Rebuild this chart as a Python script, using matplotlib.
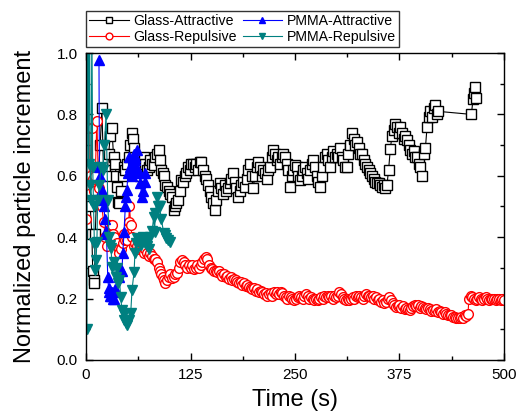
import matplotlib
matplotlib.use("Agg")
import matplotlib.pyplot as plt
from matplotlib.ticker import MultipleLocator

plt.rcParams['font.family'] = ['Liberation Sans', 'DejaVu Sans']

# Glass-Attractive
ga_t = [3, 5, 7, 8, 9, 10, 11, 13, 15, 17, 19, 21, 23, 25, 27, 29, 31, 33, 35, 36,
        37, 38, 40, 42, 44, 45, 47, 49, 51, 53, 55, 56, 57, 59, 61, 63, 65, 67, 69, 71,
        73, 75, 77, 79, 81, 83, 85, 87, 88, 90, 92, 93, 95, 97, 99, 101, 103, 105, 107, 108,
        110, 112, 114, 116, 118, 120, 122, 124, 126, 128, 130, 132, 134, 136, 138, 140, 142, 144, 146, 148,
        150, 152, 154, 156, 158, 160, 162, 164, 166, 168, 170, 172, 174, 176, 178, 180, 182, 184, 186, 188,
        190, 192, 194, 196, 198, 200, 202, 204, 206, 208, 210, 212, 214, 216, 218, 220, 222, 224, 226, 228,
        230, 232, 234, 236, 238, 240, 242, 244, 246, 248, 250, 252, 254, 256, 258, 260, 262, 264, 266, 268,
        270, 272, 274, 276, 278, 280, 282, 284, 286, 288, 290, 292, 294, 296, 298, 300, 302, 304, 306, 308,
        310, 312, 314, 316, 318, 320, 322, 324, 326, 328, 330, 332, 334, 336, 338, 340, 342, 344, 346, 348,
        350, 352, 354, 356, 358, 360, 362, 364, 366, 368, 370, 372, 374, 376, 378, 380, 382, 384, 386, 388,
        390, 392, 394, 396, 398, 400, 402, 404, 406, 408, 410, 412, 414, 416, 418, 420, 421, 461, 463, 464,
        465, 466]
ga_y = [0.63, 0.50, 0.41, 0.29, 0.26, 0.25, 0.41, 0.56, 0.62, 0.70, 0.82, 0.61, 0.62, 0.60, 0.67, 0.73, 0.755, 0.66, 0.64, 0.60,
        0.565, 0.515, 0.51, 0.55, 0.60, 0.63, 0.62, 0.64, 0.66, 0.70, 0.74, 0.72, 0.69, 0.66, 0.64, 0.62, 0.60, 0.63, 0.66, 0.64,
        0.62, 0.63, 0.65, 0.64, 0.635, 0.66, 0.67, 0.684, 0.65, 0.62, 0.61, 0.60, 0.57, 0.565, 0.55, 0.54, 0.53, 0.49, 0.50, 0.51,
        0.52, 0.55, 0.585, 0.58, 0.60, 0.61, 0.63, 0.62, 0.64, 0.64, 0.63, 0.64, 0.62, 0.645, 0.646, 0.62, 0.60, 0.59, 0.57, 0.55,
        0.53, 0.51, 0.49, 0.52, 0.55, 0.575, 0.56, 0.54, 0.57, 0.55, 0.56, 0.575, 0.59, 0.61, 0.58, 0.56, 0.53, 0.55, 0.57, 0.58,
        0.565, 0.59, 0.62, 0.64, 0.60, 0.56, 0.60, 0.63, 0.645, 0.63, 0.60, 0.62, 0.61, 0.59, 0.62, 0.63, 0.66, 0.684, 0.67, 0.65,
        0.66, 0.64, 0.66, 0.67, 0.66, 0.64, 0.62, 0.565, 0.60, 0.62, 0.635, 0.63, 0.60, 0.585, 0.60, 0.62, 0.63, 0.61, 0.59, 0.62,
        0.64, 0.65, 0.63, 0.60, 0.58, 0.565, 0.60, 0.63, 0.66, 0.67, 0.65, 0.63, 0.66, 0.68, 0.66, 0.67, 0.66, 0.69, 0.66, 0.65,
        0.63, 0.63, 0.67, 0.70, 0.74, 0.72, 0.70, 0.71, 0.69, 0.67, 0.67, 0.65, 0.64, 0.63, 0.62, 0.61, 0.60, 0.59, 0.58, 0.575,
        0.575, 0.57, 0.565, 0.57, 0.56, 0.57, 0.62, 0.687, 0.73, 0.75, 0.77, 0.76, 0.74, 0.76, 0.74, 0.72, 0.73, 0.716, 0.70, 0.684,
        0.67, 0.68, 0.66, 0.66, 0.64, 0.63, 0.60, 0.67, 0.69, 0.76, 0.79, 0.81, 0.79, 0.82, 0.83, 0.80, 0.81, 0.80, 0.85, 0.87,
        0.89, 0.855]

# Glass-Repulsive
gr_t = [0, 1, 2, 3, 4, 5, 6, 7, 8, 10, 11, 13, 15, 17, 19, 21, 23, 25, 27, 29,
        31, 32, 34, 37, 39, 40, 42, 44, 45.5, 47, 49, 51, 52, 53.5, 55, 57, 59, 61, 63, 65,
        67, 69, 71, 73, 75, 77, 79, 81, 83, 85, 87, 88, 90, 92, 93, 95, 97, 99, 101, 103,
        105, 107, 109, 111, 113, 115, 117, 119, 121, 123, 125, 127, 129, 131, 133, 135, 137, 139, 141, 143,
        145, 147, 149, 151, 153, 155, 157, 159, 161, 163, 165, 167, 169, 171, 173, 175, 177, 179, 181, 183,
        185, 187, 189, 191, 193, 195, 197, 199, 201, 203, 205, 207, 209, 211, 213, 215, 217, 219, 221, 223,
        225, 227, 229, 231, 233, 235, 237, 239, 241, 243, 245, 247, 249, 251, 253, 255, 257, 259, 261, 263,
        265, 267, 269, 271, 273, 275, 277, 279, 281, 283, 285, 287, 289, 291, 293, 295, 297, 299, 301, 303,
        305, 307, 309, 311, 313, 315, 317, 319, 321, 323, 325, 327, 329, 331, 333, 335, 337, 339, 341, 343,
        345, 347, 349, 351, 353, 355, 357, 359, 361, 363, 365, 367, 369, 371, 373, 375, 377, 379, 381, 383,
        385, 387, 389, 391, 393, 395, 397, 399, 401, 403, 405, 407, 409, 411, 413, 415, 417, 419, 421, 423,
        425, 427, 429, 431, 433, 435, 437, 439, 441, 443, 445, 447, 449, 451, 453, 455, 457, 458, 460, 462,
        464, 466, 468, 470, 472, 474, 476, 478, 480, 482, 484, 486, 488, 490, 492, 494, 496, 498, 500]
gr_y = [0.46, 1.3, 0.755, 1.2, 0.54, 0.60, 0.58, 0.755, 0.59, 0.55, 0.60, 0.78, 0.56, 0.505, 0.50, 0.45, 0.40, 0.37, 0.42, 0.44,
        0.44, 0.41, 0.40, 0.38, 0.36, 0.35, 0.36, 0.38, 0.41, 0.39, 0.39, 0.45, 0.50, 0.44, 0.40, 0.37, 0.38, 0.37, 0.36, 0.37,
        0.36, 0.35, 0.36, 0.35, 0.34, 0.348, 0.34, 0.33, 0.33, 0.32, 0.30, 0.29, 0.28, 0.27, 0.26, 0.25, 0.26, 0.27, 0.28, 0.267,
        0.27, 0.28, 0.283, 0.30, 0.32, 0.325, 0.32, 0.31, 0.30, 0.31, 0.30, 0.31, 0.295, 0.30, 0.31, 0.30, 0.31, 0.32, 0.33, 0.335,
        0.33, 0.31, 0.30, 0.295, 0.29, 0.29, 0.285, 0.29, 0.28, 0.275, 0.28, 0.27, 0.275, 0.265, 0.27, 0.26, 0.265, 0.26, 0.255, 0.25,
        0.255, 0.245, 0.25, 0.24, 0.245, 0.238, 0.235, 0.23, 0.235, 0.225, 0.23, 0.22, 0.225, 0.22, 0.215, 0.218, 0.21, 0.215, 0.218, 0.21,
        0.22, 0.215, 0.22, 0.215, 0.22, 0.218, 0.21, 0.205, 0.20, 0.21, 0.205, 0.20, 0.195, 0.20, 0.205, 0.21, 0.205, 0.20, 0.21, 0.215,
        0.21, 0.20, 0.205, 0.20, 0.195, 0.20, 0.195, 0.20, 0.205, 0.20, 0.21, 0.205, 0.21, 0.205, 0.21, 0.20, 0.21, 0.205, 0.21, 0.222,
        0.215, 0.205, 0.20, 0.195, 0.20, 0.195, 0.20, 0.205, 0.20, 0.21, 0.205, 0.21, 0.205, 0.20, 0.21, 0.215, 0.21, 0.21, 0.205, 0.21,
        0.20, 0.205, 0.195, 0.20, 0.19, 0.195, 0.185, 0.19, 0.20, 0.206, 0.195, 0.185, 0.18, 0.173, 0.175, 0.18, 0.17, 0.175, 0.165, 0.17,
        0.165, 0.163, 0.17, 0.175, 0.18, 0.175, 0.18, 0.17, 0.175, 0.173, 0.17, 0.165, 0.17, 0.165, 0.16, 0.163, 0.16, 0.165, 0.155, 0.16,
        0.155, 0.15, 0.155, 0.15, 0.148, 0.147, 0.145, 0.14, 0.14, 0.136, 0.138, 0.136, 0.14, 0.138, 0.145, 0.143, 0.15, 0.20, 0.21, 0.205,
        0.20, 0.195, 0.20, 0.205, 0.20, 0.195, 0.20, 0.205, 0.20, 0.195, 0.20, 0.198, 0.20, 0.195, 0.198, 0.20, 0.195, 0.198, 0.195]

# PMMA-Attractive
pa_t = [15.5, 16, 17, 18, 19, 20, 21.5, 22.5, 23.5, 24.5, 26, 27, 28, 29, 30, 31, 32, 33.5, 35, 37,
        39, 41, 43, 44, 45.5, 47, 48, 49, 50, 51.5, 52.5, 53.5, 55, 56, 57, 58, 59, 61, 62, 63.5,
        65, 67, 68, 70, 71]
pa_y = [0.977, 0.63, 0.60, 0.55, 0.553, 0.52, 0.50, 0.46, 0.42, 0.41, 0.27, 0.234, 0.22, 0.21, 0.21, 0.22, 0.20, 0.20, 0.23, 0.22,
        0.27, 0.30, 0.29, 0.35, 0.418, 0.50, 0.53, 0.553, 0.61, 0.66, 0.63, 0.63, 0.60, 0.64, 0.67, 0.65, 0.66, 0.684, 0.62, 0.61,
        0.575, 0.53, 0.55, 0.58, 0.61]

# PMMA-Repulsive
pr_t = [1, 2, 3, 4, 5, 6, 7, 8, 9, 10, 11, 12, 13, 14, 16, 18, 20, 22, 24, 26,
        27.5, 28.7, 30, 31, 33, 35.5, 37, 38, 40, 41.5, 43, 45, 46, 47.5, 49, 51, 53.5, 55, 57.5, 58.5,
        60, 61, 63, 64, 66, 67, 68, 70, 71, 73, 75, 77, 79, 81, 82, 83, 85, 86, 87, 88,
        90, 93, 94, 96, 98, 101]
pr_y = [0.10, 1.5, 0.64, 1.3, 0.57, 0.52, 1.1, 0.63, 0.50, 0.38, 0.293, 0.325, 0.385, 0.52, 0.57, 0.63, 0.62, 0.70, 0.80, 0.52,
        0.40, 0.375, 0.365, 0.303, 0.32, 0.27, 0.30, 0.25, 0.26, 0.205, 0.163, 0.15, 0.13, 0.12, 0.115, 0.13, 0.153, 0.228, 0.287, 0.348,
        0.38, 0.397, 0.385, 0.39, 0.375, 0.385, 0.40, 0.39, 0.38, 0.37, 0.36, 0.40, 0.42, 0.466, 0.418, 0.478, 0.53, 0.50, 0.50, 0.50,
        0.46, 0.413, 0.407, 0.397, 0.39, 0.385]

fig = plt.figure(figsize=(5.16, 4.18), dpi=100)
ax = fig.add_axes([0.1667, 0.1388, 0.81, 0.7344])

ax.plot(ga_t, ga_y, '-s', color='black', lw=0.8, ms=6.5, mfc='white', mec='black', mew=1.0,
        label='Glass-Attractive')
ax.plot(gr_t, gr_y, '-o', color='red', lw=0.8, ms=7, mfc='white', mec='red', mew=1.0,
        label='Glass-Repulsive')
ax.plot(pa_t, pa_y, '-^', color='blue', lw=0.8, ms=7, mfc='blue', mec='blue', mew=1.0,
        label='PMMA-Attractive')
ax.plot(pr_t, pr_y, '-v', color='#008080', lw=0.8, ms=7, mfc='#008080', mec='#008080', mew=1.0,
        label='PMMA-Repulsive')

ax.set_xlim(0, 500)
ax.set_ylim(0, 1.0)
ax.xaxis.set_major_locator(MultipleLocator(125))
ax.xaxis.set_minor_locator(MultipleLocator(62.5))
ax.yaxis.set_major_locator(MultipleLocator(0.2))
ax.yaxis.set_minor_locator(MultipleLocator(0.1))
ax.tick_params(which='both', direction='in', top=True, right=True, labelsize=11, pad=6, width=1)
ax.tick_params(which='major', length=5)
ax.tick_params(which='minor', length=3)
for s in ax.spines.values():
    s.set_linewidth(1.0)

ax.set_xlabel('Time (s)', fontsize=17, va='center')
ax.xaxis.set_label_coords(0.5, -0.13)
ax.set_ylabel('Normalized particle increment', fontsize=17, va='center')
ax.yaxis.set_label_coords(-0.146, 0.5)

leg = ax.legend(ncol=2, loc='lower left', bbox_to_anchor=(0, 1.02), borderaxespad=0,
                fontsize=10.2, frameon=True, fancybox=False, edgecolor='black',
                handlelength=2.8, handletextpad=0.35, columnspacing=0.4,
                borderpad=0.2, labelspacing=0.15, markerscale=0.7)
leg.get_frame().set_linewidth(1.0)

fig.savefig('out.png', dpi=100)
